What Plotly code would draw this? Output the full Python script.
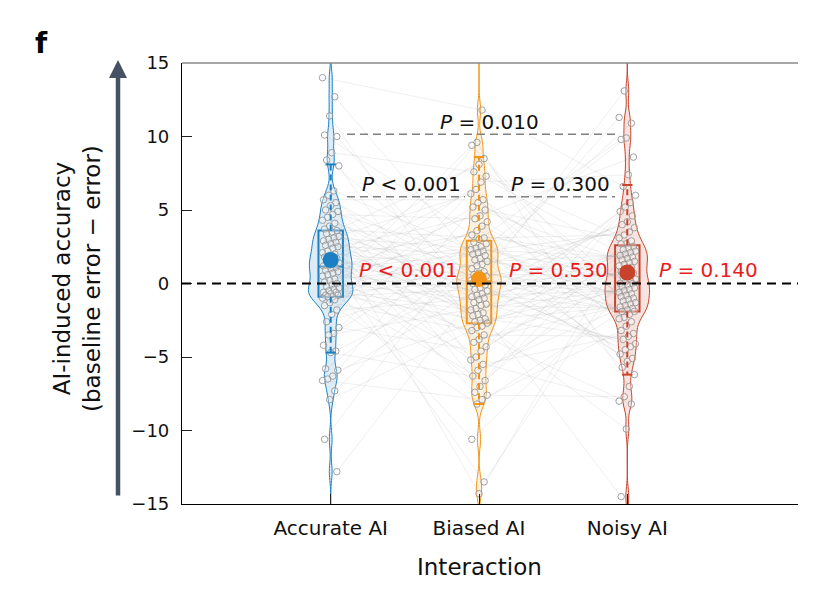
import numpy as np
import plotly.graph_objects as go

# ---------------- data ----------------
categories = ["Accurate AI", "Biased AI", "Noisy AI"]

accurate_ai = [14.0, 12.7, 11.4, 10.1, 10.0, 8.9, 8.4,
               8.0, 6.3, 6.0, 5.7, 5.5, 5.3, 5.0, 4.9, 4.7, 4.5, 4.3, 4.1, 3.9, 3.7, 3.6,
               3.5, 3.4, 3.2, 3.1, 3.0, 2.9, 2.8, 2.7, 2.6, 2.5, 2.4, 2.2, 2.1, 2.0, 1.9, 1.8, 1.7, 1.6, 1.5, 1.4, 1.3, 1.2, 1.2,
               1.1, 1.0, 0.9, 0.8, 0.7, 0.6, 0.5, 0.3, 0.2, 0.1, 0.0, -0.1, -0.2, -0.3, -0.4, -0.5, -0.6, -0.6, -0.7, -0.8, -0.8, -0.9, -0.9,
               -1.0, -1.1, -1.3, -1.5, -1.8, -2.1, -2.6, -3.0, -3.4, -3.5, -4.2, -4.6, -4.7,
               -5.8, -5.9, -6.3, -6.5, -6.6, -7.3, -7.9, -10.6, -12.8]

biased_ai = [11.8, 9.6, 9.4,
             8.5, 8.1, 7.6, 7.3, 6.9, 6.4, 6.1, 5.7, 5.5, 5.2, 5.0, 4.6, 4.4, 4.2, 3.9, 3.6, 3.3, 3.1, 3.0,
             2.8, 2.7, 2.5, 2.4, 2.3, 2.2, 2.1, 2.0, 1.9, 1.7, 1.6, 1.5, 1.3, 1.2, 1.0, 0.8, 0.7, 0.6, 0.5, 0.4, 0.3, 0.2, 0.2,
             0.1, 0.0, -0.1, -0.3, -0.4, -0.5, -0.7, -0.8, -0.9, -1.0, -1.1, -1.3, -1.4, -1.5, -1.7, -1.8, -2.0, -2.1, -2.2, -2.4, -2.5, -2.6, -2.7,
             -2.9, -3.0, -3.2, -3.5, -3.8, -4.0, -4.3, -4.6, -5.0, -5.2, -5.5, -5.9, -6.3, -6.6, -7.0, -7.4, -7.6, -7.9, -8.2,
             -10.6, -13.5, -14.3]

noisy_ai = [13.1, 11.3, 10.9, 9.9, 9.8, 8.6, 7.4,
            6.6, 6.0, 5.5, 5.2, 4.9, 4.6, 4.2, 4.0, 3.8, 3.5, 3.3, 3.1, 2.9, 2.7, 2.7,
            2.5, 2.4, 2.3, 2.2, 2.1, 2.0, 1.9, 1.8, 1.7, 1.6, 1.5, 1.4, 1.3, 1.2, 1.1, 0.9, 0.8, 0.7, 0.6, 0.4, 0.3, 0.2,
            0.1, 0.0, 0.0, -0.1, -0.2, -0.3, -0.4, -0.5, -0.6, -0.7, -0.8, -0.9, -1.0, -1.1, -1.2, -1.3, -1.4, -1.5, -1.6, -1.7, -1.8, -1.9, -1.9,
            -2.1, -2.3, -2.4, -2.6, -2.9, -3.2, -3.4, -3.6, -3.8, -4.1, -4.3, -4.5, -4.8, -5.1, -5.3, -5.7, -6.2,
            -7.0, -7.7, -8.0, -8.2, -9.9, -14.5]

# box statistics
box_q1 = [-0.9, -2.7, -1.9]
box_median = [1.15, 0.15, 0.05]
box_q3 = [3.6, 2.9, 2.6]
whisker_low = [-4.7, -8.2, -6.2]
whisker_high = [8.1, 8.6, 6.7]
group_mean = [1.6, 0.3, 0.75]

# P values
p_vs_zero = ["<i>P</i> < 0.001", "<i>P</i> = 0.530", "<i>P</i> = 0.140"]
p_pairs = ["<i>P</i> < 0.001", "<i>P</i> = 0.300", "<i>P</i> = 0.010"]

y_tick_vals = [-15, -10, -5, 0, 5, 10, 15]
y_tick_text = ["\u221215", "\u221210", "\u22125", "0", "5", "10", "15"]

# ---------------- styling ----------------
FONT = "DejaVu Sans"
colors = ["#1b80c3", "#f39416", "#c8432b"]
fills = ["rgba(27,128,195,0.15)", "rgba(243,148,22,0.13)", "rgba(200,67,43,0.15)"]
P_RED = "#ea1c1c"

W, H = 821, 598
PAGE_OFF = 8  # default page margin of the html body
# plot-area bounds in screen pixels
SL, SR, ST, SB = 182, 798, 63, 504
ML, MT = SL - PAGE_OFF, ST - PAGE_OFF
MR, MB = W - (SR - PAGE_OFF), H - (SB - PAGE_OFF)
PW, PH = SR - SL, SB - ST
X0_PX, DX_PX = 330.7, 148.3
x_lo = -(X0_PX - SL) / DX_PX
x_hi = x_lo + PW / DX_PX


def xd(px):  # screen pixel -> data x
    return (px - X0_PX) / DX_PX


def xp(px):  # screen pixel -> paper x
    return (px - SL) / PW


def yp(py):  # screen pixel -> paper y
    return (SB - py) / PH


groups = [accurate_ai, biased_ai, noisy_ai]
n = len(accurate_ai)
positions = [0, 1, 2]

# deterministic jitter (positions only)
jit = [[(((i * 29 + g * 11) % 17) / 16 - 0.5) * 0.11 for i in range(n)] for g in range(3)]
# pairing of participants across conditions (ordering only)
perm = [list(range(n)), [(i * 37) % n for i in range(n)], [(i * 59 + 7) % n for i in range(n)]]

fig = go.Figure()

# violins
for g in range(3):
    fig.add_trace(go.Violin(
        x=[positions[g]] * n, y=groups[g], width=0.30, scalemode="width",
        bandwidth=0.6, spanmode="manual", span=[-16, 16],
        fillcolor=fills[g], line=dict(color=colors[g], width=1),
        points=False, box_visible=False, meanline_visible=False,
        hoverinfo="skip", showlegend=False))

# boxes
for g in range(3):
    fig.add_trace(go.Box(
        x=[positions[g]], q1=[box_q1[g]], median=[box_median[g]], q3=[box_q3[g]],
        lowerfence=[box_q1[g]], upperfence=[box_q3[g]], width=0.165,
        whiskerwidth=0, fillcolor="rgba(255,255,255,0)",
        line=dict(color=colors[g], width=2), boxpoints=False, showlegend=False))

# pairing lines
lx, ly = [], []
for i in range(n):
    for g in range(3):
        k = perm[g][i]
        lx.append(positions[g] + jit[g][k])
        ly.append(groups[g][k])
    lx.append(None)
    ly.append(None)
fig.add_trace(go.Scatter(x=lx, y=ly, mode="lines",
                         line=dict(color="rgba(160,160,160,0.22)", width=0.8),
                         hoverinfo="skip", showlegend=False))

# points
for g in range(3):
    fig.add_trace(go.Scatter(
        x=[positions[g] + jit[g][i] for i in range(n)], y=groups[g], mode="markers",
        marker=dict(symbol="circle", size=6.5, color="rgba(255,255,255,0.3)",
                    line=dict(color="rgba(150,150,150,0.9)", width=1)),
        showlegend=False))

# whiskers (dashed) and caps
for g in range(3):
    p = positions[g]
    fig.add_trace(go.Scatter(
        x=[p, p, None, p, p], y=[box_q3[g], whisker_high[g], None, box_q1[g], whisker_low[g]],
        mode="lines", line=dict(color=colors[g], width=2, dash="6px,4px"), showlegend=False))
    fig.add_trace(go.Scatter(
        x=[p - 0.035, p + 0.035, None, p - 0.035, p + 0.035],
        y=[whisker_high[g], whisker_high[g], None, whisker_low[g], whisker_low[g]],
        mode="lines", line=dict(color=colors[g], width=2), showlegend=False))

# means
fig.add_trace(go.Scatter(
    x=positions, y=group_mean, mode="markers",
    marker=dict(size=16, color=colors, line=dict(width=0)), showlegend=False))

shapes = [
    dict(type="line", xref="paper", yref="y", x0=0, x1=1, y0=0, y1=0,
         line=dict(color="black", width=2, dash="9px,6px")),
    dict(type="line", xref="paper", yref="paper", x0=0, x1=1, y0=1, y1=1,
         line=dict(color="#8a8a8a", width=1.5)),
    dict(type="line", xref="x", yref="y", x0=xd(347), x1=xd(615), y0=10.15, y1=10.15,
         line=dict(color="#808080", width=1.5, dash="8px,5px")),
    dict(type="line", xref="x", yref="y", x0=xd(347), x1=xd(465), y0=5.9, y1=5.9,
         line=dict(color="#808080", width=1.5, dash="8px,5px")),
    dict(type="line", xref="x", yref="y", x0=xd(495), x1=xd(615), y0=5.9, y1=5.9,
         line=dict(color="#808080", width=1.5, dash="8px,5px")),
]

annotations = []
for g, left_px in zip(range(3), [357, 507, 657]):
    annotations.append(dict(x=xd(left_px), y=0.95, xref="x", yref="y", text=p_vs_zero[g],
                            showarrow=False, xanchor="left", yanchor="middle",
                            font=dict(family=FONT, size=20, color=P_RED)))
for txt, left_px, yv in zip(p_pairs, [360, 509, 438], [6.8, 6.8, 11.0]):
    annotations.append(dict(x=xd(left_px), y=yv, xref="x", yref="y", text=txt,
                            showarrow=False, xanchor="left", yanchor="middle",
                            font=dict(family=FONT, size=20, color="#111")))
# y title
annotations.append(dict(x=xp(77), y=yp(279), xref="paper", yref="paper",
                        text="AI-induced accuracy<br>(baseline error \u2212 error)",
                        textangle=-90, showarrow=False, xanchor="center", yanchor="middle",
                        font=dict(family=FONT, size=23, color="#111")))
# x title
annotations.append(dict(x=1, y=yp(567), xref="x", yref="paper", text="Interaction",
                        showarrow=False, xanchor="center", yanchor="middle",
                        font=dict(family=FONT, size=23, color="#111")))
# arrow
annotations.append(dict(x=xp(118), y=yp(60), xref="paper", yref="paper", text="",
                        showarrow=True, ax=0, ay=437, axref="pixel", ayref="pixel",
                        arrowhead=2, arrowsize=0.8, arrowwidth=4.5, arrowcolor="#465163"))
# panel label
annotations.append(dict(x=xp(41), y=yp(43), xref="paper", yref="paper", text="<b>f</b>",
                        showarrow=False, xanchor="center", yanchor="middle",
                        font=dict(family=FONT, size=28, color="black")))

fig.update_layout(
    width=W, height=H, margin=dict(l=ML, r=MR, t=MT, b=MB),
    paper_bgcolor="white", plot_bgcolor="white",
    violinmode="overlay", boxmode="overlay", showlegend=False,
    shapes=shapes, annotations=annotations,
    font=dict(family=FONT, color="#111"),
    xaxis=dict(range=[x_lo, x_hi], tickvals=positions, ticktext=categories,
               showgrid=False, zeroline=False, showline=True, linecolor="black", linewidth=1.2,
               ticks="inside", ticklen=10, tickcolor="#222", tickwidth=1.2,
               tickfont=dict(family=FONT, size=20, color="#111"), ticklabelstandoff=6),
    yaxis=dict(range=[-15, 15], tickvals=y_tick_vals, ticktext=y_tick_text,
               showgrid=False, zeroline=False, showline=True, linecolor="black", linewidth=1.2,
               ticks="inside", ticklen=10, tickcolor="#222", tickwidth=1.2,
               tickfont=dict(family=FONT, size=18, color="#111"), ticklabelstandoff=8),
)

fig.write_html("out.html")
